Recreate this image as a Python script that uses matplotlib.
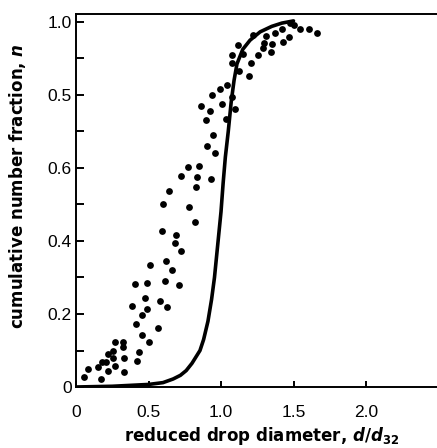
import matplotlib
matplotlib.use("Agg")
import matplotlib.pyplot as plt
from matplotlib.ticker import FixedLocator, MultipleLocator

plt.rcParams["font.family"] = ["Liberation Sans", "DejaVu Sans"]
plt.rcParams["mathtext.fontset"] = "custom"
plt.rcParams["mathtext.it"] = "DejaVu Sans:italic:bold"
plt.rcParams["mathtext.rm"] = "DejaVu Sans:bold"
plt.rcParams["mathtext.bf"] = "DejaVu Sans:bold"

# measured drop data: reduced diameter and cumulative number fraction
drop_d = [
    0.055, 0.085, 0.17, 0.15, 0.177, 0.219, 0.207, 0.223, 0.257, 0.269,
    0.269, 0.326, 0.326, 0.331, 0.331, 0.253, 0.419, 0.437, 0.453, 0.506,
    0.414, 0.452, 0.49, 0.384, 0.476, 0.579, 0.626, 0.563,
    0.407, 0.487, 0.51, 0.595, 0.611, 0.623, 0.664, 0.69, 0.683, 0.722,
    0.713, 0.602, 0.644, 0.781, 0.825, 0.823,
    0.724, 0.837, 0.929, 0.77, 0.85, 0.961, 0.906, 0.943, 0.897, 1.034,
    0.862, 0.924, 1.005, 1.097, 0.936, 0.993, 1.039, 1.074,
    1.12, 1.074, 1.074, 1.15, 1.126, 1.195, 1.205, 1.223, 1.257, 1.292,
    1.297, 1.343, 1.35, 1.31, 1.372, 1.425, 1.471, 1.419, 1.476, 1.503,
    1.545, 1.609, 1.664,
]
drop_n = [
    0.027, 0.048, 0.021, 0.054, 0.069, 0.045, 0.069, 0.090, 0.099, 0.058,
    0.124, 0.124, 0.109, 0.079, 0.042, 0.079, 0.072, 0.097, 0.142, 0.124,
    0.173, 0.197, 0.213, 0.222, 0.243, 0.236, 0.218, 0.161,
    0.281, 0.284, 0.335, 0.428, 0.290, 0.346, 0.320, 0.417, 0.395, 0.373,
    0.279, 0.501, 0.538, 0.492, 0.549, 0.452,
    0.579, 0.575, 0.570, 0.604, 0.605, 0.640, 0.661, 0.690, 0.732, 0.733,
    0.771, 0.756, 0.775, 0.761, 0.800, 0.816, 0.827, 0.795,
    0.937, 0.910, 0.889, 0.912, 0.867, 0.852, 0.889, 0.964, 0.910, 0.928,
    0.943, 0.919, 0.941, 0.962, 0.969, 0.946, 0.958, 0.982, 0.996, 0.992,
    0.980, 0.980, 0.969,
]

# predicted cumulative distribution
model_d = [0.0, 0.25, 0.5, 0.6, 0.67, 0.72, 0.76, 0.8, 0.855, 0.88, 0.91,
           0.935, 0.955, 0.97, 0.985, 1.0, 1.015, 1.03, 1.05, 1.07, 1.09,
           1.11, 1.15, 1.2, 1.27, 1.35, 1.42, 1.5]
model_n = [0.0, 0.002, 0.007, 0.012, 0.022, 0.032, 0.045, 0.065, 0.10, 0.13,
           0.18, 0.24, 0.30, 0.36, 0.42, 0.48, 0.56, 0.63, 0.70, 0.78, 0.84,
           0.885, 0.925, 0.95, 0.973, 0.988, 0.997, 1.003]

x_ticks = [0, 0.5, 1.0, 1.5, 2.0]
x_tick_labels = ["0", "0.5", "1.0", "1.5", "2.0"]
y_ticks = [0, 0.2, 0.4, 0.6, 0.8, 1.0]
y_tick_labels = ["0", "0.2", "0.4", "0.6", "0.5", "1.0"]

W, H = 437, 448
fig = plt.figure(figsize=(W / 100, H / 100), dpi=100)
ax = fig.add_axes([76 / W, 61 / H, 361 / W, 373 / H])

ax.plot(model_d, model_n, color="black", lw=2.6, solid_capstyle="round",
        zorder=3)
ax.scatter(drop_d, drop_n, s=24, color="black", linewidths=0, zorder=4)

ax.set_xlim(0, 361 / 145)
ax.set_ylim(0, 373 / 365)

for side in ("left", "bottom", "top"):
    ax.spines[side].set_linewidth(1.4)
ax.spines["right"].set_visible(False)

ax.xaxis.set_major_locator(FixedLocator(x_ticks))
ax.set_xticklabels(x_tick_labels)
ax.yaxis.set_major_locator(FixedLocator(y_ticks))
ax.set_yticklabels(y_tick_labels)
ax.yaxis.set_minor_locator(MultipleLocator(0.1))

ax.tick_params(axis="x", direction="in", length=4, width=1.4,
               labelsize=12.5, pad=13)
ax.tick_params(axis="y", which="major", direction="in", length=6, width=1.4,
               labelsize=12.5, pad=3)
ax.tick_params(axis="y", which="minor", direction="in", length=6, width=1.4)

label_font = dict(family=["DejaVu Sans"], fontsize=12, fontweight="bold")
ax.set_xlabel(r"reduced drop diameter, $d/d_{32}$", **label_font)
ax.xaxis.set_label_coords(0.515, -0.102)
ax.set_ylabel(r"cumulative number fraction, $n$", **label_font)
ax.yaxis.set_label_coords(-0.133, 0.54)

fig.savefig("out.png", dpi=100)
